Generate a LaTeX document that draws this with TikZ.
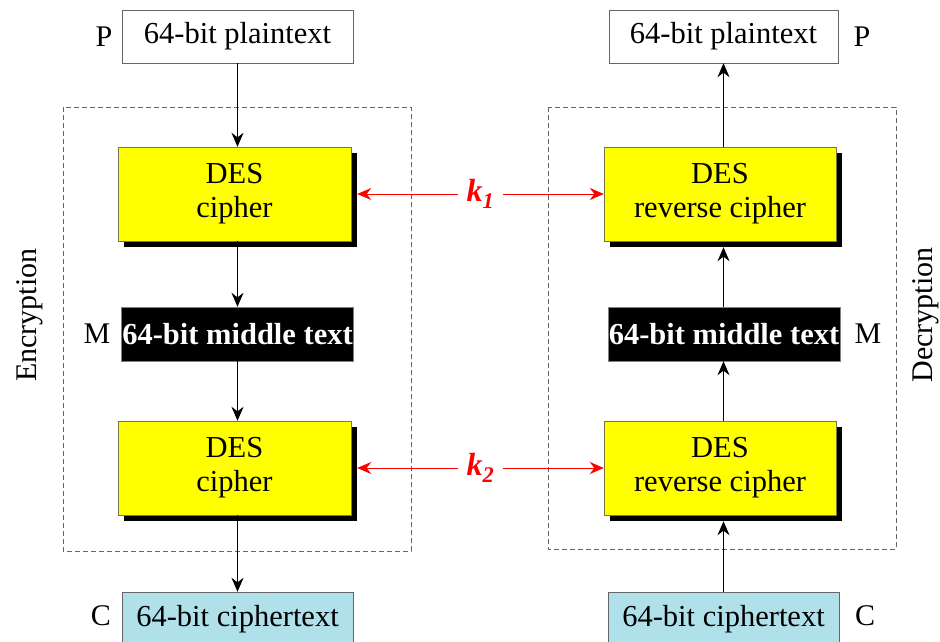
\documentclass[tikz,border=0pt]{standalone}
\usepackage{fontspec}
\setmainfont{Liberation Serif}
\usetikzlibrary{arrows.meta,shadows,calc}
\definecolor{cipherblue}{RGB}{176,224,234}
\definecolor{desyellow}{RGB}{255,255,0}
\begin{document}
\begin{tikzpicture}[x=1pt,y=-1pt,
  every node/.style={font=\fontsize{30.5}{34}\selectfont, inner sep=0pt},
  plainbox/.style={draw=gray!80!black, fill=white, minimum width=231pt, minimum height=53pt},
  cipherbox/.style={draw=gray!80!black, fill=cipherblue, minimum width=231pt, minimum height=54pt},
  desbox/.style={draw=black!60!yellow, fill=desyellow, minimum width=233pt, minimum height=94pt, align=center,
     drop shadow={shadow xshift=6pt, shadow yshift=-6pt, fill=black, opacity=1}},
  midbox/.style={draw=gray, fill=black, text=white, font=\fontsize{30.5}{34}\selectfont\bfseries, minimum width=232pt, minimum height=54pt},
  flow/.style={draw=black, line width=1pt, -{Stealth[length=14pt,width=12pt]}},
  keyline/.style={draw=red, line width=1pt, {Stealth[length=14pt,width=12pt]}-{Stealth[length=14pt,width=12pt]}},
  keylabel/.style={text=red, fill=white, inner xsep=9pt, font=\fontsize{32}{34}\selectfont\bfseries\itshape},
  frame/.style={draw=gray!80!black, dashed, dash pattern=on 5pt off 3pt, line width=0.9pt},
  tag/.style={font=\fontsize{30}{34}\selectfont}]
\useasboundingbox (0,0) rectangle (940,642);
\clip (0,0) rectangle (940,642);
\fill[white] (0,0) rectangle (940,642);
% frames
\draw[frame] (63,107) rectangle (411,551);
\draw[frame] (548,107) rectangle (896,549);
% left column
\node[plainbox] (ptL) at (237.5,36.5) {64-bit plaintext};
\node[desbox] (desL1) at (234.5,194) {DES\\cipher};
\node[midbox] (midL) at (237.5,334) {64-bit middle text};
\node[desbox] (desL2) at (234.5,468) {DES\\cipher};
\node[cipherbox] (ctL) at (237.5,619) {64-bit ciphertext};
% right column
\node[plainbox, minimum width=229pt] (ptR) at (723.5,36.5) {64-bit plaintext};
\node[desbox, minimum width=232pt] (desR1) at (720,194) {DES\\reverse cipher};
\node[midbox] (midR) at (724,334) {64-bit middle text};
\node[desbox, minimum width=232pt] (desR2) at (720,468) {DES\\reverse cipher};
\node[cipherbox] (ctR) at (723.5,619) {64-bit ciphertext};
% tags
\node[tag] (tP1) at (104,37) {P};
\node[tag] (tM1) at (97,334) {M};
\node[tag] (tC1) at (101,616) {C};
\node[tag] (tP2) at (862,37) {P};
\node[tag] (tM2) at (868,334) {M};
\node[tag] (tC2) at (865,616) {C};
\node[tag, rotate=90] (enc) at (30,315) {Encryption};
\node[tag, rotate=90] (dec) at (926,315) {Decryption};
% left flow
\draw[flow] (ptL.south) -- (ptL.south |- desL1.north);
\draw[flow] (ptL.south |- desL1.south) -- (ptL.south |- midL.north);
\draw[flow] (midL.south) -- (midL.south |- desL2.north);
\draw[flow] (midL.south |- desL2.south) -- (ctL.north);
% right flow
\coordinate (sR1) at ($(ptR.south |- desR1.south)+(0,6)$);
\coordinate (sR2) at ($(ptR.south |- desR2.south)+(0,6)$);
\draw[flow] (ptR.south |- desR1.north) -- (ptR.south);
\draw[flow] (ptR.south |- midR.north) -- (sR1);
\draw[flow] (ptR.south |- desR2.north) -- (ptR.south |- midR.south);
\draw[flow] (ctR.north) -- (sR2);
% keys
\coordinate (kL1) at ($(desL1.east)+(6,0)$);
\coordinate (kL2) at ($(desL2.east)+(6,0)$);
\draw[keyline] (kL1) -- node[keylabel] (k1) {k\textsubscript{1}} (desR1.west);
\draw[keyline] (kL2) -- node[keylabel] (k2) {k\textsubscript{2}} (desR2.west);
\end{tikzpicture}
\end{document}
